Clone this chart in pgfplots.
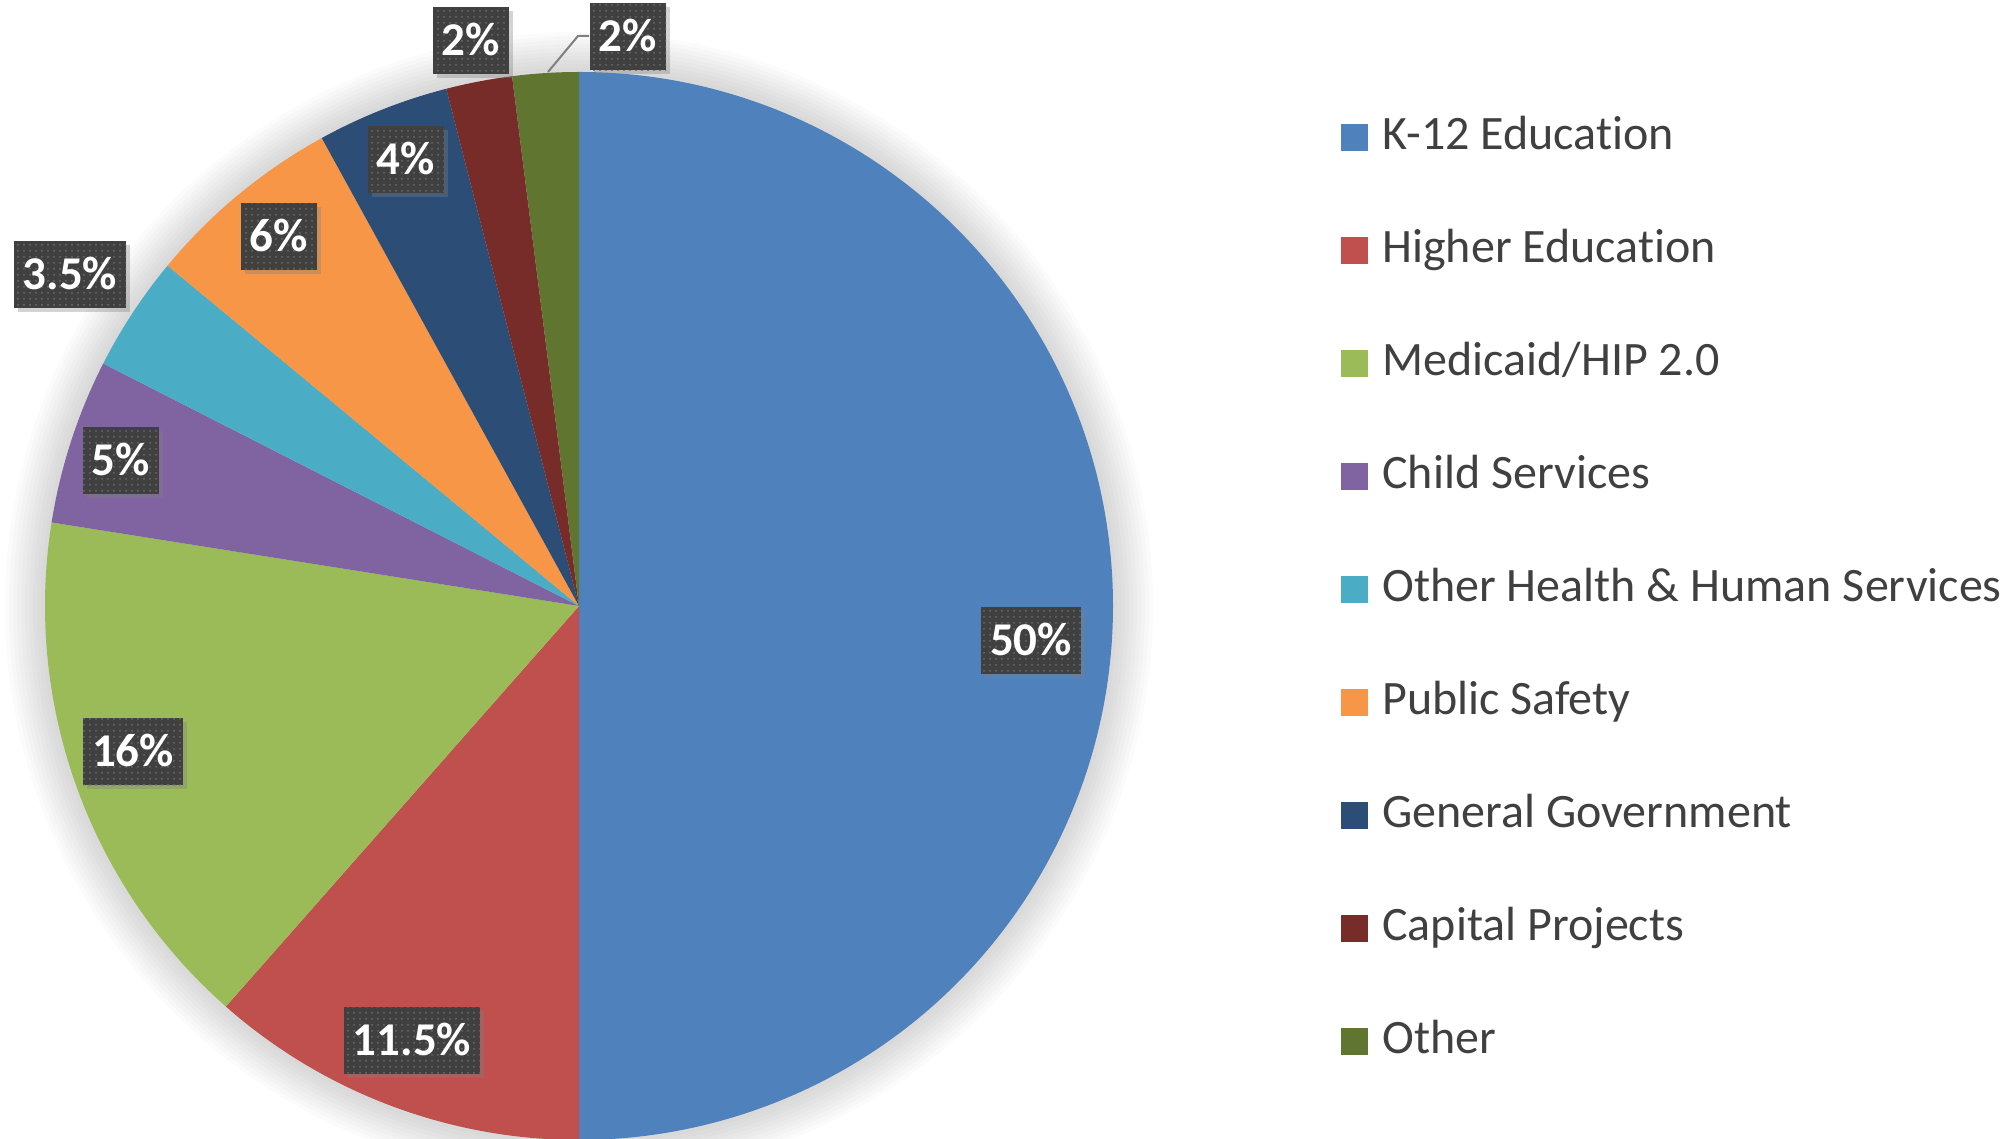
\documentclass[border=0pt]{standalone}
\usepackage{pgfplots}
\pgfplotsset{compat=1.18}
\usepackage{pgfplotstable}
\usepackage{fontspec}
\setmainfont{Carlito}[Ligatures=NoCommon]
\usetikzlibrary{shadows,patterns}

\definecolor{c0}{HTML}{4F81BD}
\definecolor{c1}{HTML}{C0504D}
\definecolor{c2}{HTML}{9BBB59}
\definecolor{c3}{HTML}{8064A2}
\definecolor{c4}{HTML}{4BACC6}
\definecolor{c5}{HTML}{F79646}
\definecolor{c6}{HTML}{2C4D75}
\definecolor{c7}{HTML}{772C2A}
\definecolor{c8}{HTML}{5F7530}
\definecolor{lblbg}{HTML}{404040}
\definecolor{legtext}{HTML}{404040}

% share (%)  and label centre (pixel coordinates, y from bottom)
\pgfplotstableread{
idx value lx ly
0 50 1031 498
1 11.5 412 98
2 16 133 387
3 5 121 678
4 3.5 70 864
5 6 279 902
6 4 406 979
7 2 471 1098
8 2 628 1102
}\piedata

\tikzset{lbl/.style={fill=lblbg, text=white, font=\bfseries\fontsize{23.5}{27}\selectfont,
  inner xsep=4.5pt, inner ysep=0pt, minimum height=33.5pt, text height=15pt, text depth=0pt,
  drop shadow={shadow xshift=2pt, shadow yshift=-2pt, opacity=0.35},
  postaction={pattern=dots, pattern color=white!22!lblbg}}}

\begin{document}
\begin{tikzpicture}
\begin{axis}[scale only axis, width=1007.5pt, height=569.5pt,
  xmin=0, xmax=2015, ymin=0, ymax=1139, hide axis, clip=false,
  legend style={at={(axis cs:1341,1024)}, anchor=north west, draw=none, fill=none,
    inner sep=0pt, font=\fontsize{24}{28}\selectfont, text=legtext, row sep=34.5pt,
    nodes={inner sep=0pt, text height=17pt, text depth=5pt},
    /tikz/every odd column/.append style={column sep=7pt}},
  legend cell align=left,
  legend image code/.code={\fill[#1] (0pt,-6.75pt) rectangle (13.5pt,6.75pt);},
]
% soft halo
\pgfplotsforeachungrouped \k in {2,4,...,20}{%
  \edef\tmp{\noexpand\fill[black, opacity=0.015] (axis cs:579,533) circle[radius=\the\dimexpr 267pt+\k pt\relax];}\tmp}
% wedges
\gdef\startang{90}
\pgfplotsforeachungrouped \i in {0,...,8}{%
  \pgfplotstablegetelem{\i}{value}\of\piedata
  \pgfmathsetmacro\endang{\startang-3.6*\pgfplotsretval}%
  \edef\tmp{\noexpand\fill[c\i] (axis cs:579,533) -- ++(\startang:267pt) arc[start angle=\startang, end angle=\endang, radius=267pt] -- cycle;}%
  \tmp
  \global\let\startang\endang
}
% leader line
\draw[gray, line width=1pt] (axis cs:548,1067) -- (axis cs:578,1103) -- (axis cs:589,1103);
% labels
\pgfplotsforeachungrouped \i in {0,...,8}{%
  \pgfplotstablegetelem{\i}{value}\of\piedata \let\v\pgfplotsretval
  \pgfplotstablegetelem{\i}{lx}\of\piedata \let\lx\pgfplotsretval
  \pgfplotstablegetelem{\i}{ly}\of\piedata \let\ly\pgfplotsretval
  \edef\tmp{\noexpand\node[lbl] at (axis cs:\lx,\ly) {\v\noexpand\%};}\tmp
}
\addlegendimage{fill=c0,draw=none}\addlegendentry{K-12 Education}
\addlegendimage{fill=c1,draw=none}\addlegendentry{Higher Education}
\addlegendimage{fill=c2,draw=none}\addlegendentry{Medicaid/HIP 2.0}
\addlegendimage{fill=c3,draw=none}\addlegendentry{Child Services}
\addlegendimage{fill=c4,draw=none}\addlegendentry{Other Health \& Human Services}
\addlegendimage{fill=c5,draw=none}\addlegendentry{Public Safety}
\addlegendimage{fill=c6,draw=none}\addlegendentry{General Government}
\addlegendimage{fill=c7,draw=none}\addlegendentry{Capital Projects}
\addlegendimage{fill=c8,draw=none}\addlegendentry{Other}
\coordinate (SW) at (axis cs:0,0);
\coordinate (NE) at (axis cs:2015,1139);
\end{axis}
\pgfresetboundingbox
\path (SW) rectangle (NE);
\end{tikzpicture}
\end{document}
